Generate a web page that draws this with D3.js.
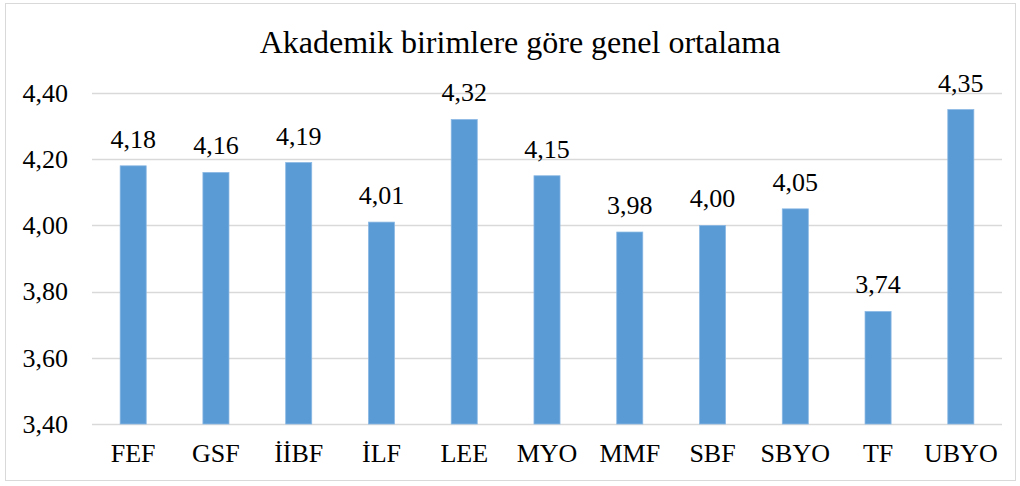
<!DOCTYPE html>
<html>
<head>
<meta charset="utf-8">
<script src="https://cdn.jsdelivr.net/npm/d3@7"></script>
<style>
  body { margin: 0; background: #fff; }
  svg text { font-family: "Liberation Serif", "Times New Roman", serif; fill: #000; }
</style>
</head>
<body>
<svg id="chart" width="1020" height="486" font-family="Liberation Serif, serif"></svg>
<script>
// Data
const categories = ['FEF', 'GSF', 'İİBF', 'İLF', 'LEE', 'MYO', 'MMF', 'SBF', 'SBYO', 'TF', 'UBYO'];
const values = [4.18, 4.16, 4.19, 4.01, 4.32, 4.15, 3.98, 4.00, 4.05, 3.74, 4.35];
const yTicks = [3.4, 3.6, 3.8, 4.0, 4.2, 4.4];
const title = 'Akademik birimlere göre genel ortalama';

const SERIF = '"Liberation Serif", "Times New Roman", serif';
const svg = d3.select('#chart');
const margin = { top: 93, right: 18, bottom: 62, left: 92 };
const width = 1020 - margin.left - margin.right;
const height = 486 - margin.top - margin.bottom;

const fmt = v => d3.format('.2f')(v).replace('.', ',');

// Chart border
svg.append('rect')
  .attr('x', 5.5).attr('y', 3.5)
  .attr('width', 1010).attr('height', 477)
  .attr('fill', '#fff')
  .attr('stroke', '#d9d9d9')
  .attr('stroke-width', 1);

svg.append('text')
  .attr('x', 520).attr('y', 53)
  .attr('text-anchor', 'middle')
  .style('font-family', SERIF)
  .style('font-size', '32px')
  .text(title);

const g = svg.append('g').attr('transform', `translate(${margin.left},${margin.top})`);

const x = d3.scaleBand().domain(categories).range([0, width]).paddingInner(0.685).paddingOuter(0.34);
const y = d3.scaleLinear().domain([3.4, 4.4]).range([height, 0]);

// Gridlines
g.append('g')
  .selectAll('line')
  .data(yTicks)
  .join('line')
  .attr('x1', 0).attr('x2', width)
  .attr('y1', d => Math.round(y(d)) + 0.5)
  .attr('y2', d => Math.round(y(d)) + 0.5)
  .attr('stroke', '#d9d9d9')
  .attr('stroke-width', 1.5);

// Y axis labels
const yAxis = g.append('g')
  .call(d3.axisLeft(y).tickValues(yTicks).tickFormat(fmt).tickSize(0).tickPadding(24));
yAxis.attr('font-family', null);
yAxis.select('.domain').remove();
yAxis.selectAll('text')
  .style('font-size', '26px')
  .style('font-family', SERIF)
  .attr('fill', '#000');

// X axis labels
const xAxis = g.append('g')
  .attr('transform', `translate(0,${height})`)
  .call(d3.axisBottom(x).tickSize(0).tickPadding(20));
xAxis.attr('font-family', null);
xAxis.select('.domain').remove();
xAxis.selectAll('text')
  .style('font-size', '26px')
  .style('font-family', SERIF)
  .attr('fill', '#000');

// Bars
g.append('g')
  .selectAll('rect')
  .data(values)
  .join('rect')
  .attr('x', (d, i) => x(categories[i]))
  .attr('y', d => y(d))
  .attr('width', x.bandwidth())
  .attr('height', d => y(3.4) - y(d))
  .attr('fill', '#5b9bd5')
  .attr('stroke', '#8ab8e4')
  .attr('stroke-width', 0.75);

// Value labels
g.append('g')
  .selectAll('text')
  .data(values)
  .join('text')
  .attr('x', (d, i) => x(categories[i]) + x.bandwidth() / 2)
  .attr('y', d => y(d) - 18)
  .attr('text-anchor', 'middle')
  .style('font-family', SERIF)
  .style('font-size', '26px')
  .text(d => fmt(d));
</script>
</body>
</html>
